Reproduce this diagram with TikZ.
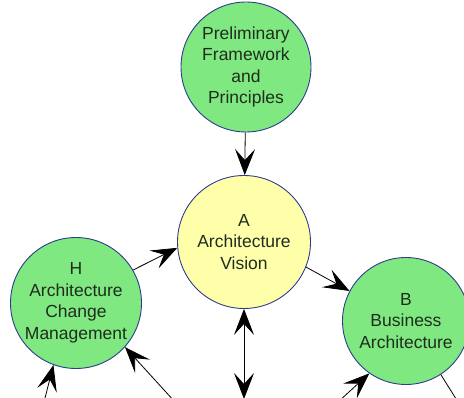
\documentclass[tikz,border=0pt]{standalone}
\usepackage{fontspec}
\setmainfont{Liberation Sans}
\usetikzlibrary{arrows.meta}
\definecolor{phasegreen}{RGB}{128,232,128}
\definecolor{phaseyellow}{RGB}{255,255,170}
\definecolor{rimblue}{RGB}{45,60,140}
\definecolor{labelink}{RGB}{30,45,30}
\begin{document}
\begin{tikzpicture}[x=1pt,y=-1pt,
  phase/.style={circle,draw=rimblue,line width=0.9pt,fill=phasegreen,
    inner sep=0pt,minimum size=130pt,align=center,text=labelink,
    font=\fontsize{17.5}{21.5}\selectfont},
  barb/.tip={Stealth[length=26pt,width=20pt,inset=11pt]},
  flow/.style={-barb,line width=0.8pt}]
\useasboundingbox (0,0) rectangle (464,398);
\node[phase] (P) at (246,67) {Preliminary\\Framework\\and\\Principles};
\node[phase,fill=phaseyellow,minimum size=133pt] (A) at (244,242) {A\\Architecture\\Vision};
\node[phase,minimum size=131pt] (H) at (76,303) {H\\Architecture\\Change\\Management};
\node[phase,minimum size=127pt] (B) at (406,321) {B\\Business\\Architecture};
\coordinate (down) at (244,399);
\coordinate (fromG) at (44,402);
\coordinate (fromF) at (175,402);
\coordinate (fromC) at (338,402);
\coordinate (toD) at (458,402);
\draw[flow] (P) -- (A);
\draw[flow] (H.30) -- (A.185);
\draw[flow] (A.-22) -- (B.152);
\draw[flow,barb-barb] (A) -- (down);
\draw[flow] (fromG) -- (H.-110);
\draw[flow] (fromF) -- (H.-42);
\draw[flow] (fromC) -- (B.-125);
\draw[line width=0.8pt] (B.-57) -- (toD);
\end{tikzpicture}
\end{document}
